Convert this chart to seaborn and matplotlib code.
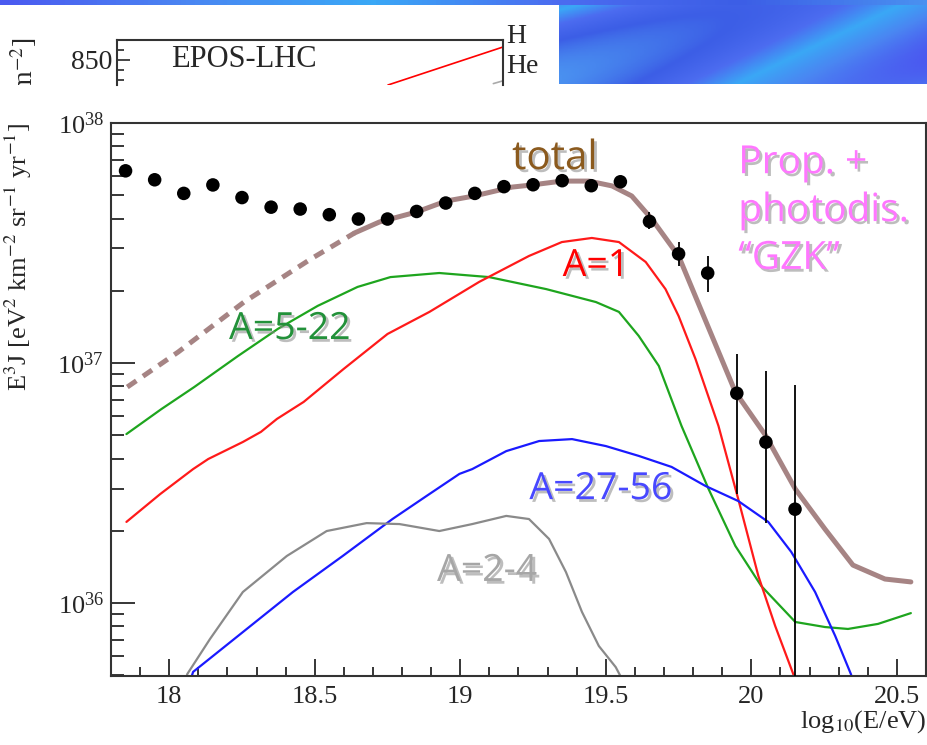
import numpy as np
import pandas as pd
import seaborn as sns
import matplotlib.pyplot as plt
import matplotlib.patheffects as pe
from matplotlib import ticker
from matplotlib.patches import Rectangle
from matplotlib.colors import LinearSegmentedColormap

# measured flux points: log10(E/eV), E^3 J in units of 1e37
pts_x = [17.85, 17.95, 18.05, 18.15, 18.25, 18.35, 18.45, 18.55, 18.65, 18.75, 18.85, 18.95,
         19.05, 19.15, 19.25, 19.35, 19.45, 19.55, 19.65, 19.75, 19.85, 19.95, 20.05, 20.15]
pts_y = [6.32, 5.80, 5.09, 5.52, 4.89, 4.46, 4.38, 4.15, 3.98, 3.98, 4.28, 4.64,
         5.09, 5.43, 5.53, 5.75, 5.48, 5.69, 3.89, 2.85, 2.37, 0.748, 0.468, 0.246]
pts_lo = pts_y[:18] + [3.61, 2.53, 1.98, 0.285, 0.215, 0.001]
pts_hi = pts_y[:18] + [4.26, 3.19, 2.79, 1.09, 0.93, 0.81]

# model components, log10 of E^3 J
tot_dash_x = [17.856, 18.031, 18.257, 18.486, 18.637]
tot_dash_y = [36.900, 37.046, 37.254, 37.433, 37.542]
tot_x = [18.637, 18.723, 18.849, 18.952, 19.048, 19.178, 19.247, 19.349, 19.442, 19.521, 19.589,
         19.658, 19.750, 19.849, 19.945, 20.048, 20.151, 20.253, 20.349, 20.459, 20.548]
tot_y = [37.542, 37.588, 37.629, 37.675, 37.696, 37.733, 37.742, 37.758, 37.758, 37.738, 37.696,
         37.600, 37.446, 37.158, 36.879, 36.700, 36.475, 36.308, 36.158, 36.100, 36.088]

a1_x = [17.853, 17.969, 18.082, 18.134, 18.253, 18.315, 18.370, 18.462, 18.599, 18.750, 18.894,
        19.065, 19.236, 19.349, 19.452, 19.545, 19.637, 19.705, 19.750, 19.808, 19.887, 19.955,
        20.024, 20.082, 20.144, 20.2]
a1_y = [36.338, 36.454, 36.558, 36.600, 36.671, 36.713, 36.767, 36.838, 36.975, 37.121, 37.213,
        37.338, 37.446, 37.504, 37.521, 37.504, 37.421, 37.308, 37.196, 37.017, 36.738, 36.433,
        36.113, 35.904, 35.704, 35.45]

a522_x = [17.853, 17.973, 18.086, 18.236, 18.373, 18.510, 18.647, 18.760, 18.928, 19.099, 19.295,
          19.466, 19.545, 19.613, 19.682, 19.760, 19.853, 19.945, 20.034, 20.151, 20.253, 20.332,
          20.435, 20.548]
a522_y = [36.704, 36.808, 36.900, 37.029, 37.142, 37.238, 37.317, 37.358, 37.375, 37.358, 37.308,
          37.254, 37.213, 37.113, 36.988, 36.738, 36.475, 36.238, 36.071, 35.921, 35.900, 35.892,
          35.913, 35.958]

a2756_x = [18.04, 18.082, 18.253, 18.425, 18.596, 18.767, 18.884, 18.997, 19.041, 19.158, 19.271,
           19.384, 19.500, 19.613, 19.726, 19.842, 19.955, 20.058, 20.137, 20.219, 20.288, 20.342,
           20.38]
a2756_y = [35.55, 35.713, 35.879, 36.046, 36.196, 36.350, 36.446, 36.538, 36.558, 36.633, 36.675,
           36.683, 36.654, 36.613, 36.567, 36.488, 36.425, 36.338, 36.213, 36.046, 35.863, 35.704,
           35.55]

a24_x = [18.03, 18.062, 18.140, 18.253, 18.404, 18.541, 18.678, 18.791, 18.928, 19.041, 19.158,
         19.236, 19.305, 19.363, 19.418, 19.476, 19.534, 19.57]
a24_y = [35.55, 35.704, 35.850, 36.046, 36.196, 36.300, 36.333, 36.329, 36.300, 36.329, 36.363,
         36.350, 36.267, 36.129, 35.963, 35.821, 35.733, 35.65]

# the neighbouring panel cut off at the top of the slide
epos_x = [0.702, 1.0]
epos_y = [837.5, 856.5]

W, H = 928, 745

sns.set_theme(style="white")
plt.rcParams['font.family'] = ['Liberation Serif', 'DejaVu Sans']
plt.rcParams['mathtext.fontset'] = 'stix'

fig = plt.figure(figsize=(W / 100, H / 100), dpi=100)
fig.patch.set_facecolor('white')

# slide background bits
grad = LinearSegmentedColormap.from_list(
    'slide', ['#4a5af0', '#4a86f2', '#3aa8f6', '#4c6cf0', '#3c5ee6', '#4a90f0'])
bg = fig.add_axes([559 / W, 1 - 84 / H, 1 - 559 / W, 84 / H])
gx, gy = np.meshgrid(np.linspace(0, 1, 200), np.linspace(0, 1, 60))
bg.imshow(np.sin(3 * gx + 2 * gy) + 0.6 * gy, cmap=grad, aspect='auto')
bg.set_axis_off()
band = fig.add_axes([0, 1 - 5 / H, 1, 5 / H])
band.imshow(np.linspace(0, 1, 200)[None, :], cmap=grad, aspect='auto')
band.set_axis_off()

# top strip panel
ax2 = fig.add_axes([117 / W, 1 - 85 / H, (503 - 117) / W, 45 / H])
ax2.set_xlim(0, 1)
ax2.set_ylim(837.5, 860)
sns.lineplot(x=epos_x, y=epos_y, ax=ax2, color='red', lw=1.2, estimator=None, sort=False)
sns.lineplot(x=[0.975, 1.0], y=[838.2, 839.6], ax=ax2, color='#aaaaaa', lw=1.2,
             estimator=None, sort=False)
for s in ['top', 'left', 'right']:
    ax2.spines[s].set_color('#333333')
    ax2.spines[s].set_linewidth(1.5)
ax2.spines['bottom'].set_visible(False)
ax2.set_xticks([])
ax2.set_yticks([850])
ax2.set_yticklabels(['850'])
ax2.yaxis.set_minor_locator(ticker.FixedLocator([840, 845, 855]))
ax2.tick_params(axis='y', which='major', direction='in', length=9, width=1.2,
                labelsize=20, pad=3, left=True)
ax2.tick_params(axis='y', which='minor', direction='in', length=5, width=1.2, left=True)
ax2.text(0.14, 850, 'EPOS-LHC', fontsize=22, va='center', ha='left')
fig.text(506 / W, 1 - 43 / H, 'H', fontsize=20, ha='left', va='baseline')
fig.text(506 / W, 1 - 73 / H, 'He', fontsize=20, ha='left', va='baseline')
cut = fig.text(24 / W, 1 - 38 / H, 'm$^{-2}$]', rotation=90, fontsize=20,
               ha='center', va='top')
cut.set_clip_path(Rectangle((0, 1 - 85 / H), 0.1, 85 / H, transform=fig.transFigure))

# main panel
ax = fig.add_axes([111 / W, 69 / H, 815 / W, 553 / H])
ax.set_yscale('log')

brown = '#a68484'
sns.lineplot(x=tot_dash_x, y=10 ** np.array(tot_dash_y), ax=ax, color=brown, lw=3.6,
             estimator=None, sort=False)
ax.lines[-1].set_dashes((2.2, 1.6))
sns.lineplot(x=tot_x, y=10 ** np.array(tot_y), ax=ax, color=brown, lw=3.6,
             estimator=None, sort=False)
curves = [(a522_x, a522_y, '#1ea51e'), (a1_x, a1_y, '#ff1a1a'),
          (a2756_x, a2756_y, '#1a1aff'), (a24_x, a24_y, '#8a8a8a')]
for cx, cy, col in curves:
    sns.lineplot(x=cx, y=10 ** np.array(cy), ax=ax, color=col, lw=1.6,
                 estimator=None, sort=False)
for ln in ax.lines:
    ln.set_solid_joinstyle('round')

py = np.array(pts_y) * 1e37
plo = np.array(pts_lo) * 1e37
phi = np.array(pts_hi) * 1e37
ax.errorbar(pts_x, py, yerr=[py - plo, phi - py], fmt='none', ecolor='black',
            elinewidth=1.3, capsize=0, zorder=4)
sns.scatterplot(x=pts_x, y=py, ax=ax, color='black', s=95, edgecolor='none', zorder=5)

ax.set_xlim(17.8, 20.6)
ax.set_ylim(10 ** 35.696, 1e38)

for s in ax.spines.values():
    s.set_color('#333333')
    s.set_linewidth(1.5)

ax.xaxis.set_major_locator(ticker.MultipleLocator(0.5))
ax.xaxis.set_minor_locator(ticker.MultipleLocator(0.1))
ax.xaxis.set_major_formatter(ticker.FormatStrFormatter('%g'))
ax.yaxis.set_major_locator(ticker.LogLocator(base=10))
ax.yaxis.set_minor_locator(ticker.LogLocator(base=10, subs=np.arange(2, 10)))
ax.yaxis.set_minor_formatter(ticker.NullFormatter())
ax.tick_params(axis='x', which='major', direction='in', length=12, width=1.3,
               labelsize=19, pad=7, bottom=True)
ax.tick_params(axis='x', which='minor', direction='in', length=6.5, width=1.3, bottom=True)
ax.tick_params(axis='y', which='major', direction='in', length=17, width=1.3,
               labelsize=19, pad=5, left=True)
ax.tick_params(axis='y', which='minor', direction='in', length=9.5, width=1.3, left=True)

ax.set_ylabel('E$^{3}$J [eV$^{2}$ km$^{-2}$ sr$^{-1}$ yr$^{-1}$]', fontsize=19, loc='top')
ax.yaxis.set_label_coords(-0.095, 1.0)
ax.set_xlabel('log$_{10}$(E/eV)', fontsize=19, loc='right')
ax.xaxis.set_label_coords(1.0, -0.058)

shadow = [pe.SimplePatchShadow(offset=(2, -2), shadow_rgbFace='#888888', alpha=0.55), pe.Normal()]
lab = dict(family=['Open Sans', 'DejaVu Sans'], path_effects=shadow, va='baseline')
ax.text(19.325, 10 ** 37.808, 'total', color='#8b5a1e', fontsize=29, ha='center', **lab)
ax.text(19.466, 10 ** 37.3625, 'A=1', color='#ff0000', fontsize=27, ha='center', **lab)
ax.text(18.414, 10 ** 37.10, 'A=5-22', color='#23913a', fontsize=27, ha='center', **lab)
ax.text(19.483, 10 ** 36.433, 'A=27-56', color='#4848ff', fontsize=27, ha='center', **lab)
ax.text(19.092, 10 ** 36.092, 'A=2-4', color='#a6a6a6', fontsize=27, ha='center', **lab)
ax.text(19.955, 10 ** 37.392, 'Prop. +\nphotodis.\n\u201cGZK\u201d', color='#ff77ff',
        fontsize=28, ha='left', linespacing=1.34, **lab)

fig.savefig('out.png', dpi=100)
